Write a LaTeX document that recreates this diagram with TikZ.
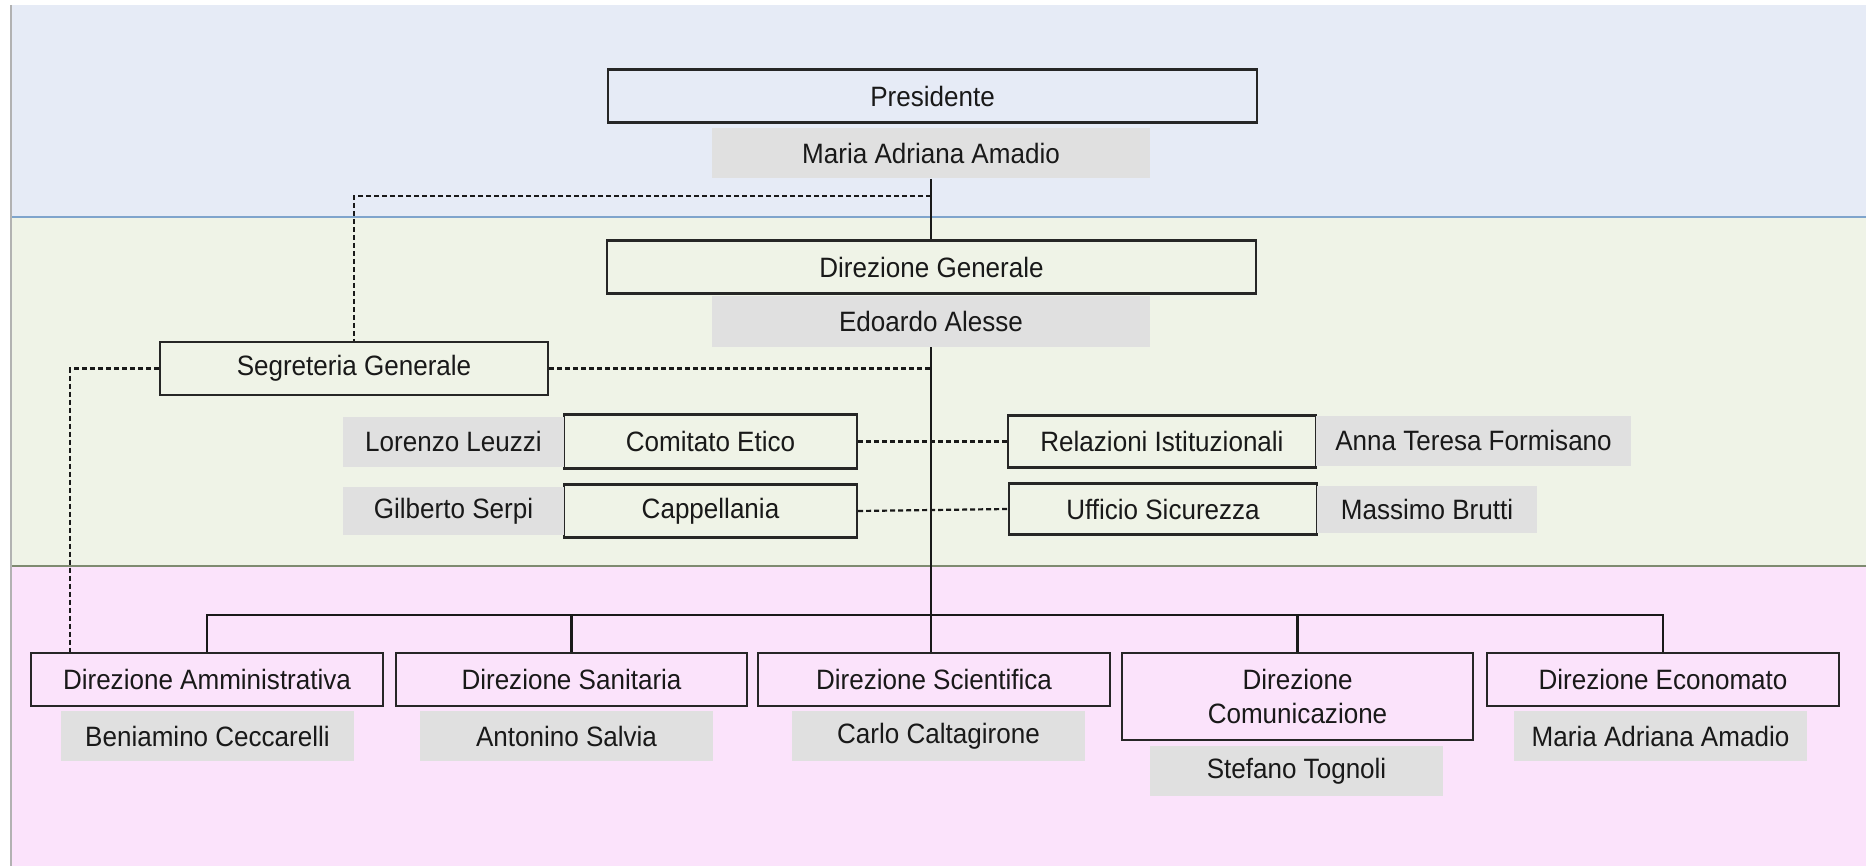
\documentclass[tikz,border=0pt]{standalone}
\usepackage{fontspec}
\setsansfont[FakeStretch=0.93]{Liberation Sans}
\usetikzlibrary{calc}
\definecolor{bandblue}{HTML}{E6EBF6}
\definecolor{bandgreen}{HTML}{EFF3E7}
\definecolor{bandpink}{HTML}{FBE3FB}
\definecolor{lineblue}{HTML}{7FA4CC}
\definecolor{lineolive}{HTML}{7E8A70}
\definecolor{namegray}{HTML}{E0E0E0}
\tikzset{blk/.style={draw=black!85, line width=1.2pt, minimum height=26.5pt, inner sep=0pt, text=black!90},
  nm/.style={fill=namegray, minimum height=25pt, inner sep=0pt, text=black!90},
  link/.style={line width=1.2pt, black!90},
  dlink/.style={line width=1.1pt, black!90, dash pattern=on 2.5pt off 1.5pt}}

\begin{document}
\begin{tikzpicture}[x=0.5pt, y=-0.5pt, font=\sffamily\fontsize{14}{17}\selectfont]
  \useasboundingbox (0,0) rectangle (1866,866);
  % bands
  \fill[bandblue] (11,5) rectangle (1866,217);
  \fill[bandgreen] (11,217) rectangle (1866,566);
  \fill[bandpink] (11,566) rectangle (1866,866);
  \draw[lineblue, line width=1pt] (11,217) -- (1866,217);
  \draw[lineolive, line width=1pt] (11,566) -- (1866,566);
  \draw[black!30, line width=0.8pt] (11,5) -- (11,866);
  % top
  \node[blk, minimum width=324.5pt] (pres) at (932.5,96) {Presidente};
  \node[nm, minimum width=219pt] (presN) at (931,153.5) {Maria Adriana Amadio};
  \node[blk, minimum width=324.5pt] (dg) at (931.5,267) {Direzione Generale};
  \node[nm, minimum width=219pt, minimum height=25.5pt] (dgN) at (931,321.5) {Edoardo Alesse};
  \node[blk, minimum width=194pt] (seg) at (354,368.5) {Segreteria Generale};
  % staff, left
  \node[blk, minimum width=146.5pt, minimum height=27pt] (etico) at (710.5,441.5) {Comitato Etico};
  \node[nm, minimum width=110.5pt] (eticoN) at (453.5,441.5) {Lorenzo Leuzzi};
  \node[blk, minimum width=146.5pt] (capp) at (710.5,511) {Cappellania};
  \node[nm, minimum width=110.5pt, minimum height=24pt] (cappN) at (453.5,511) {Gilberto Serpi};
  % staff, right
  \node[blk, minimum width=154pt, minimum height=26pt] (rel) at (1162,441.5) {Relazioni Istituzionali};
  \node[nm, minimum width=157.5pt] (relN) at (1473.5,440.5) {Anna Teresa Formisano};
  \node[blk, minimum width=154pt, minimum height=25.5pt] (uff) at (1163,509) {Ufficio Sicurezza};
  \node[nm, minimum width=110pt, minimum height=23.5pt] (uffN) at (1427,509) {Massimo Brutti};
  % direzioni
  \node[blk, minimum width=176pt] (dAmm) at (207,679.5) {Direzione Amministrativa};
  \node[blk, minimum width=175.5pt] (dSan) at (571.5,679.5) {Direzione Sanitaria};
  \node[blk, minimum width=176pt] (dSci) at (934,679.5) {Direzione Scientifica};
  \node[blk, minimum width=175.5pt, minimum height=43.5pt, align=center] (dCom) at (1297.5,696.5) {Direzione\\Comunicazione};
  \node[blk, minimum width=176pt] (dEco) at (1663,679.5) {Direzione Economato};
  \node[nm, minimum width=146.5pt] (dAmmN) at (207.5,736) {Beniamino Ceccarelli};
  \node[nm, minimum width=146.5pt] (dSanN) at (566.5,736) {Antonino Salvia};
  \node[nm, minimum width=146.5pt] (dSciN) at (938.5,736) {Carlo Caltagirone};
  \node[nm, minimum width=146.5pt] (dComN) at (1296.5,771) {Stefano Tognoli};
  \node[nm, minimum width=146.5pt] (dEcoN) at (1660.5,736) {Maria Adriana Amadio};
  % main line
  \draw[link] (presN.south) -- (presN.south |- dg.north);
  \draw[link] (dgN.south) -- (dgN.south |- dSci.north);
  % dashed links
  \coordinate (tap) at ($(presN.south)!0.28!(presN.south |- dg.north)$);
  \draw[dlink] (tap) -| (seg.north);
  \draw[dlink] (seg.east) -- (seg.east -| dgN.south);
  \coordinate (segL) at (70,368.5);
  \draw[dlink] (seg.west) -- (segL) -- (segL |- dAmm.north);
  \draw[dlink] (etico.east) -- (rel.west);
  \draw[dlink] (capp.east) -- (uff.west);
  % bus to direzioni
  \coordinate (bus) at (931,615);
  \draw[link] (dAmm.north) |- (bus) -| (dEco.north);
  \foreach \d in {dSan,dCom}
    \draw[link] (\d.north) -- (\d.north |- bus);
\end{tikzpicture}
\end{document}
